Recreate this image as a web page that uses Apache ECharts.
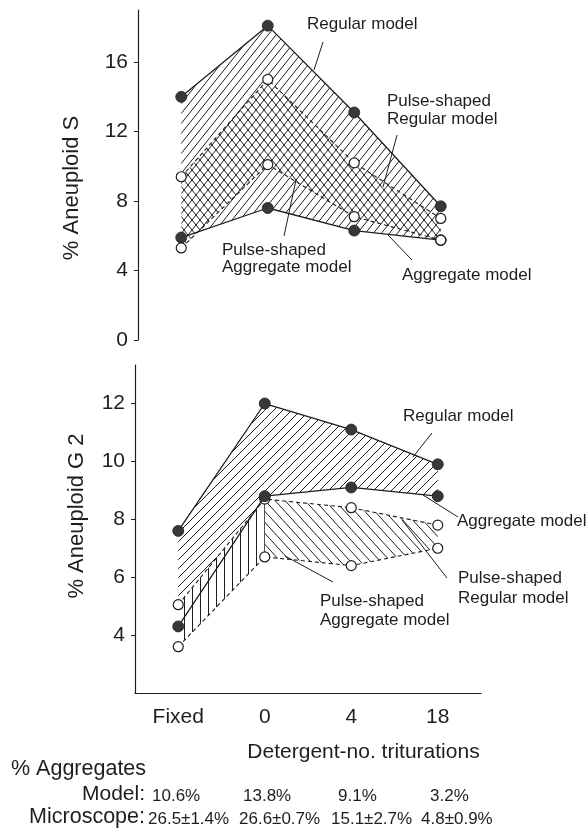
<!DOCTYPE html>
<html>
<head>
<meta charset="utf-8">
<script src="https://cdn.jsdelivr.net/npm/echarts@6/dist/echarts.min.js"></script>
<style>
html,body{margin:0;padding:0;background:#fff;}
#chart{width:588px;height:839px;}
</style>
</head>
<body>
<div id="chart"></div>
<script>
// ---- data ----
const categories = ['Fixed', '0', '4', '18'];
// Top panel: % Aneuploid S
const sRegular        = [14.0, 18.1, 13.1, 7.7];
const sAggregate      = [5.9, 7.6, 6.3, 5.75];
const sPulseRegular   = [9.4, 15.0, 10.2, 7.0];
const sPulseAggregate = [5.3, 10.1, 7.1, 5.75];
// Bottom panel: % Aneuploid G 2
const gRegular        = [7.6, 12.0, 11.1, 9.9];
const gAggregate      = [4.3, 8.8, 9.1, 8.8];
const gPulseRegular   = [5.05, 8.7, 8.4, 7.8];
const gPulseAggregate = [3.6, 6.7, 6.4, 7.0];
const sTicks = [0, 4, 8, 12, 16];
const gTicks = [4, 6, 8, 10, 12];
const modelPct = ['10.6%', '13.8%', '9.1%', '3.2%'];
const microscopePct = ['26.5\u00b11.4%', '26.6\u00b10.7%', '15.1\u00b12.7%', '4.8\u00b10.9%'];

// ---- styling helpers ----
const INK = '#1e1e1e';
const FONT = 'Liberation Sans, Arial, Helvetica, sans-serif';

function hatch(w, h, kind) {
  const c = document.createElement('canvas');
  c.width = w; c.height = h;
  const g = c.getContext('2d');
  g.strokeStyle = INK; g.lineWidth = 1;
  g.beginPath();
  if (kind === '/') {
    for (const o of [-w, 0, w]) { g.moveTo(o, h); g.lineTo(o + w, 0); }
  } else if (kind === '\\') {
    for (const o of [-w, 0, w]) { g.moveTo(o, 0); g.lineTo(o + w, h); }
  } else {
    g.moveTo(0.5, 0); g.lineTo(0.5, h);
  }
  g.stroke();
  return { image: c, repeat: 'repeat' };
}
const patTopSlash = hatch(8, 10, '/');
const patTopBack  = hatch(8, 10, '\\');
const patBotSlash = hatch(9, 9, '/');
const patBotBack  = hatch(10, 11, '\\');
const patBotVert  = hatch(8, 4, '|');

function band(upper, lower, segs, pattern, axis, z) {
  return {
    type: 'custom', xAxisIndex: axis, yAxisIndex: axis, z: z, silent: true, clip: false,
    dimensions: ['x', 'u0', 'l0', 'u1', 'l1'],
    encode: { x: 0, y: [1, 2, 3, 4] },
    data: segs.map(i => [i, upper[i], lower[i], upper[i + 1], lower[i + 1]]),
    renderItem: function (params, api) {
      const i = api.value(0);
      const pts = [
        api.coord([i, api.value(1)]),
        api.coord([i + 1, api.value(3)]),
        api.coord([i + 1, api.value(4)]),
        api.coord([i, api.value(2)])
      ];
      return { type: 'polygon', shape: { points: pts }, style: { fill: pattern, stroke: null } };
    }
  };
}

function lineS(data, axis, dashed, filled, z) {
  return {
    type: 'line', xAxisIndex: axis, yAxisIndex: axis, data: data, z: z, silent: true,
    symbol: 'circle', symbolSize: filled ? 11 : 10, showAllSymbol: true,
    lineStyle: { color: INK, width: dashed ? 1.1 : 1.3, type: dashed ? [4, 3] : 'solid' },
    itemStyle: filled
      ? { color: '#383838', borderColor: INK, borderWidth: 0.8 }
      : { color: '#ffffff', borderColor: INK, borderWidth: 1.2 }
  };
}

function txt(x, y, s, size, align) {
  return { type: 'text', x: x, y: y, silent: true,
    style: { text: s, fontSize: size, fontFamily: FONT, fill: INK, align: align || 'left', verticalAlign: 'middle' } };
}
function lead(x1, y1, x2, y2) {
  return { type: 'line', silent: true, shape: { x1: x1, y1: y1, x2: x2, y2: y2 }, style: { stroke: INK, lineWidth: 1 } };
}

const modelX = [152, 243, 338, 430];
const microX = [148, 239, 331, 421];

const graphics = [
  // top panel annotations
  txt(307, 24, 'Regular model', 17), lead(323, 42, 314, 70),
  txt(387, 101, 'Pulse-shaped', 17), txt(387, 119, 'Regular model', 17), lead(397, 135, 383, 187),
  txt(222, 250, 'Pulse-shaped', 17), txt(222, 267, 'Aggregate model', 17), lead(284, 236, 296, 180),
  txt(402, 275, 'Aggregate model', 17), lead(412, 260, 388, 235),
  // bottom panel annotations
  txt(403, 416, 'Regular model', 17), lead(432, 433, 413, 457),
  txt(457, 521, 'Aggregate model', 17), lead(423, 495, 458, 517),
  txt(458, 578, 'Pulse-shaped', 17), txt(458, 598, 'Regular model', 17), lead(447, 578, 402, 520),
  txt(320, 601, 'Pulse-shaped', 17), txt(320, 620, 'Aggregate model', 17), lead(333, 582, 285, 556),
  // aggregates table
  txt(11, 769, '% Aggregates', 21.5),
  txt(145, 794, 'Model:', 21, 'right'),
  txt(145, 817, 'Microscope:', 21.5, 'right')
];
modelPct.forEach((s, i) => graphics.push(txt(modelX[i], 796, s, 17)));
microscopePct.forEach((s, i) => graphics.push(txt(microX[i], 819, s, 17)));

const axisLineStyle = { color: INK, width: 1.2 };

const option = {
  animation: false,
  backgroundColor: '#ffffff',
  textStyle: { fontFamily: FONT },
  grid: [
    { left: 138, top: 10, width: 346, height: 330 },
    { left: 135, top: 365, width: 346, height: 328 }
  ],
  xAxis: [
    { type: 'category', gridIndex: 0, data: categories, boundaryGap: true, show: false },
    { type: 'category', gridIndex: 1, data: categories, boundaryGap: true,
      axisLine: { lineStyle: axisLineStyle },
      axisTick: { alignWithLabel: true, length: 5, lineStyle: { color: INK } },
      axisLabel: { fontSize: 21, color: INK, margin: 14, fontFamily: FONT },
      name: 'Detergent-no. triturations', nameLocation: 'middle', nameGap: 49,
      nameTextStyle: { fontSize: 21, color: INK, fontFamily: FONT, padding: [0, 0, 0, 111] } }
  ],
  yAxis: [
    { type: 'value', gridIndex: 0, min: 0, max: 19,
      axisLine: { show: true, lineStyle: axisLineStyle },
      axisTick: { show: true, length: 4, customValues: sTicks, lineStyle: { color: INK } },
      axisLabel: { fontSize: 21, color: INK, margin: 10, customValues: sTicks, fontFamily: FONT },
      splitLine: { show: false },
      name: '% Aneuploid S', nameLocation: 'middle', nameGap: 55,
      nameTextStyle: { fontSize: 22, color: INK, fontFamily: FONT, padding: [0, 26, 0, 0] } },
    { type: 'value', gridIndex: 1, min: 2, max: 13.33,
      axisLine: { show: true, lineStyle: axisLineStyle },
      axisTick: { show: true, length: 4, customValues: gTicks, lineStyle: { color: INK } },
      axisLabel: { fontSize: 21, color: INK, margin: 10, customValues: gTicks, fontFamily: FONT },
      splitLine: { show: false },
      name: '% Aneuploid G 2', nameLocation: 'middle', nameGap: 47,
      nameTextStyle: { fontSize: 22, color: INK, fontFamily: FONT, padding: [0, 0, 0, 26] } }
  ],
  series: [
    // top panel
    band(sRegular, sAggregate, [0, 1, 2], patTopSlash, 0, 1),
    band(sPulseRegular, sPulseAggregate, [0, 1, 2], patTopBack, 0, 2),
    lineS(sRegular, 0, false, true, 3),
    lineS(sAggregate, 0, false, true, 3),
    lineS(sPulseRegular, 0, true, false, 4),
    lineS(sPulseAggregate, 0, true, false, 4),
    // bottom panel
    band(gRegular, gPulseRegular, [0], patBotSlash, 1, 1),
    band(gRegular, gAggregate, [1, 2], patBotSlash, 1, 1),
    band(gPulseRegular, gPulseAggregate, [0], patBotVert, 1, 1),
    band(gPulseRegular, gPulseAggregate, [1, 2], patBotBack, 1, 1),
    lineS(gPulseRegular, 1, true, false, 3),
    lineS(gPulseAggregate, 1, true, false, 3),
    lineS(gRegular, 1, false, true, 4),
    lineS(gAggregate, 1, false, true, 4)
  ],
  graphic: { elements: graphics }
};

const chart = echarts.init(document.getElementById('chart'), null, { renderer: 'canvas' });
chart.setOption(option);
</script>
</body>
</html>
